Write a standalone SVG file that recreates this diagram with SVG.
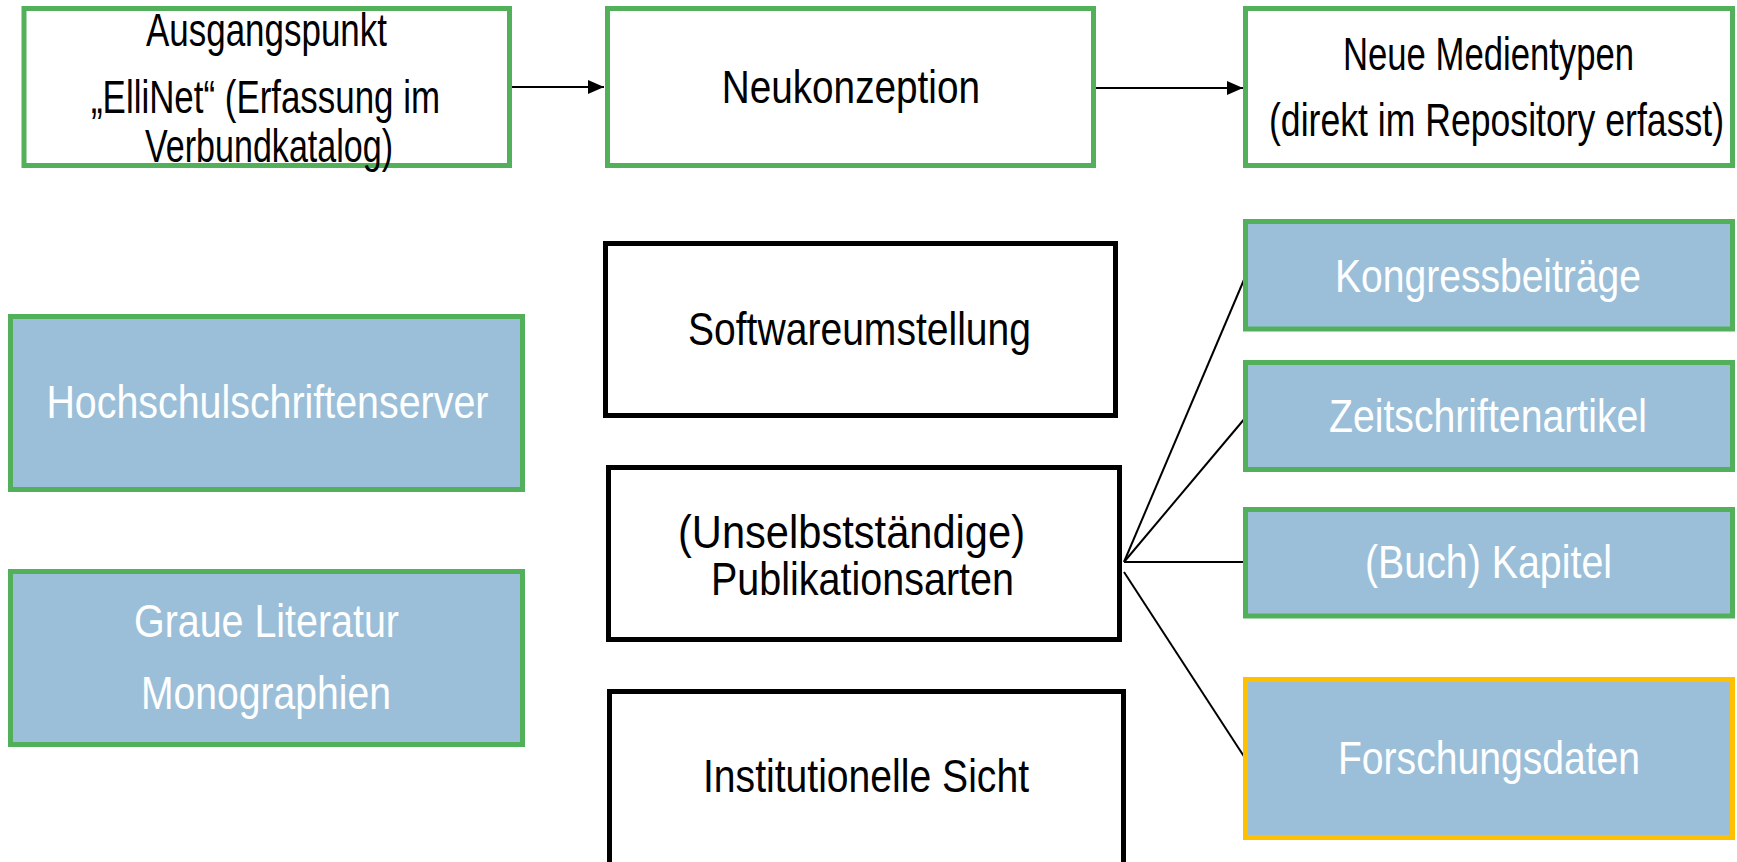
<svg xmlns="http://www.w3.org/2000/svg" width="1737" height="862" viewBox="0 0 1737 862">
<style>
.g{fill:#ffffff;stroke:#52B05A;stroke-width:5}
.b{fill:#ffffff;stroke:#000000;stroke-width:5}
.gb{fill:#9BBFD9;stroke:#52B05A;stroke-width:5}
.ob{fill:#9BBFD9;stroke:#FFC000;stroke-width:5}
text{font-family:"Liberation Sans Narrow","Liberation Sans",Arial,sans-serif;font-size:46px}
.tk{fill:#000000}
.tw{fill:#ffffff}
.conn{stroke:#000000;stroke-width:2;fill:none}
</style>
<defs>
<marker id="ah2" viewBox="0 0 16 14" refX="16" refY="7" markerWidth="16" markerHeight="14" markerUnits="userSpaceOnUse" orient="auto">
<path d="M0,0 L16,7 L0,14 z" fill="#000000"/>
</marker>
</defs>
<g id="connectors">
<line class="conn" x1="512" y1="87" x2="604" y2="87" stroke-width="2.5" marker-end="url(#ah2)"/>
<line class="conn" x1="1096" y1="88" x2="1243" y2="88" stroke-width="2.5" marker-end="url(#ah2)"/>
<line class="conn" x1="1124" y1="562" x2="1246" y2="275"/>
<line class="conn" x1="1124" y1="562" x2="1246" y2="417"/>
<line class="conn" x1="1124" y1="562" x2="1246" y2="562"/>
<line class="conn" x1="1124" y1="572" x2="1245" y2="758"/>
</g>
<g id="node-ausgangspunkt">
<rect class="g" x="24" y="8.5" width="485.5" height="157"/>
<text class="tk" x="146" y="46" font-size="43" textLength="241" lengthAdjust="spacingAndGlyphs">Ausgangspunkt</text>
<text class="tk" x="91" y="112.7" font-size="43" textLength="349" lengthAdjust="spacingAndGlyphs">„ElliNet“ (Erfassung im</text>
<text class="tk" x="145" y="161.7" font-size="43" textLength="248" lengthAdjust="spacingAndGlyphs">Verbundkatalog)</text>
</g>
<g id="node-neukonzeption">
<rect class="g" x="607.5" y="8.5" width="486" height="157"/>
<text class="tk" x="721.7" y="102.7" font-size="46" textLength="258.3" lengthAdjust="spacingAndGlyphs">Neukonzeption</text>
</g>
<g id="node-neue-medientypen">
<rect class="g" x="1245.5" y="8.5" width="487" height="157"/>
<text class="tk" x="1343" y="70" font-size="43" textLength="291" lengthAdjust="spacingAndGlyphs">Neue Medientypen</text>
<text class="tk" x="1269" y="136" font-size="43" textLength="455" lengthAdjust="spacingAndGlyphs">(direkt im Repository erfasst)</text>
</g>
<g id="node-softwareumstellung">
<rect class="b" x="605.5" y="243.5" width="510" height="172"/>
<text class="tk" x="688" y="345" textLength="343" lengthAdjust="spacingAndGlyphs">Softwareumstellung</text>
</g>
<g id="node-publikationsarten">
<rect class="b" x="608.5" y="467.5" width="511" height="172"/>
<text class="tk" x="678" y="548" font-size="45" textLength="347" lengthAdjust="spacingAndGlyphs">(Unselbstständige)</text>
<text class="tk" x="711" y="595" font-size="45" textLength="303" lengthAdjust="spacingAndGlyphs">Publikationsarten</text>
</g>
<g id="node-institutionelle-sicht">
<rect class="b" x="609.5" y="691.5" width="514" height="200"/>
<text class="tk" x="703" y="792" textLength="326" lengthAdjust="spacingAndGlyphs">Institutionelle Sicht</text>
</g>
<g id="node-kongressbeitraege">
<rect class="gb" x="1245.5" y="221.5" width="487" height="107.5"/>
<text class="tw" x="1335" y="291.7" textLength="306" lengthAdjust="spacingAndGlyphs">Kongressbeiträge</text>
</g>
<g id="node-zeitschriftenartikel">
<rect class="gb" x="1245.5" y="362.5" width="487" height="107"/>
<text class="tw" x="1329" y="431.7" textLength="318" lengthAdjust="spacingAndGlyphs">Zeitschriftenartikel</text>
</g>
<g id="node-buch-kapitel">
<rect class="gb" x="1245.5" y="509.5" width="487" height="106.5"/>
<text class="tw" x="1365" y="578" textLength="247" lengthAdjust="spacingAndGlyphs">(Buch) Kapitel</text>
</g>
<g id="node-forschungsdaten">
<rect class="ob" x="1245.5" y="679.5" width="487" height="158"/>
<text class="tw" x="1338" y="774" textLength="302" lengthAdjust="spacingAndGlyphs">Forschungsdaten</text>
</g>
<g id="node-hochschulschriftenserver">
<rect class="gb" x="10.5" y="316.5" width="512" height="173"/>
<text class="tw" x="46.4" y="418.3" textLength="442" lengthAdjust="spacingAndGlyphs">Hochschulschriftenserver</text>
</g>
<g id="node-graue-literatur">
<rect class="gb" x="10.5" y="571.5" width="512" height="173"/>
<text class="tw" x="134" y="637.3" textLength="265" lengthAdjust="spacingAndGlyphs">Graue Literatur</text>
<text class="tw" x="141" y="709.3" textLength="250" lengthAdjust="spacingAndGlyphs">Monographien</text>
</g>
</svg>
